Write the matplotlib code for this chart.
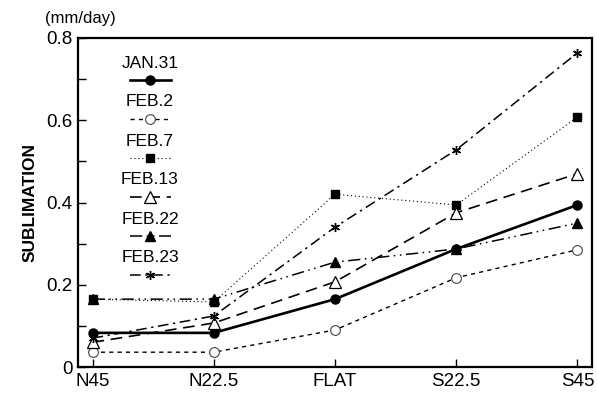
import matplotlib.pyplot as plt
from matplotlib.lines import Line2D

plt.rcParams['font.family'] = ['Liberation Sans', 'DejaVu Sans']

# datos
sitios = ['N45', 'N22.5', 'FLAT', 'S22.5', 'S45']
jan31 = [0.083, 0.083, 0.165, 0.287, 0.394]
feb2 = [0.036, 0.036, 0.090, 0.217, 0.285]
feb7 = [0.165, 0.158, 0.420, 0.394, 0.608]
feb13 = [0.060, 0.107, 0.207, 0.375, 0.470]
feb22 = [0.165, 0.165, 0.255, 0.287, 0.350]
feb23 = [0.070, 0.124, 0.340, 0.528, 0.764]

nombres = ['JAN.31', 'FEB.2', 'FEB.7', 'FEB.13', 'FEB.22', 'FEB.23']
series = [jan31, feb2, feb7, feb13, feb22, feb23]

# estilos de cada serie
estilos = [
    dict(ls='-', lw=1.9, marker='o', ms=6.5, mfc='black', mec='black'),
    dict(ls=(0, (3, 3)), lw=1.0, marker='o', ms=7, mfc='white', mec='#444444', mew=0.8),
    dict(ls=(0, (1, 2.5)), lw=0.8, marker='s', ms=6, mfc='black', mec='black'),
    dict(ls=(0, (7, 4)), lw=1.2, marker='^', ms=8, mfc='white', mec='black', mew=0.9),
    dict(ls=(0, (8, 3, 1, 3, 1, 3)), lw=1.1, marker='^', ms=7, mfc='black', mec='black'),
    dict(ls=(0, (7, 3, 1.5, 3)), lw=1.1, marker=(6, 2, 0), ms=6.5, mfc='black', mec='black', mew=1.0),
]

fig = plt.figure(figsize=(5.97, 3.94), dpi=100)
ax = fig.add_axes([78 / 597, 27 / 394, 514 / 597, 329 / 394])

x = list(range(len(sitios)))
for vals, st in zip(series, estilos):
    ax.plot(x, vals, color='black', **st)

ax.set_xlim(-0.12, 4.12)
ax.set_ylim(0, 0.8)
ax.set_xticks(x)
ax.set_xticklabels(sitios)
ax.set_yticks([0, 0.2, 0.4, 0.6, 0.8])
ax.set_yticklabels(['0', '0.2', '0.4', '0.6', '0.8'])
ax.set_yticks([0.1, 0.3, 0.5, 0.7], minor=True)
ax.tick_params(direction='in', labelsize=13.5, length=6, width=1, pad=4)
ax.tick_params(which='minor', direction='in', length=6, width=1)
for s in ax.spines.values():
    s.set_linewidth(1.6)

ax.set_ylabel('SUBLIMATION', fontsize=12.5, fontweight='bold', labelpad=6)
fig.text(45 / 597, 1 - 18 / 394, '(mm/day)', fontsize=12, va='center', ha='left')

# leyenda: etiqueta arriba y muestra de línea abajo
for i, (nom, st) in enumerate(zip(nombres, estilos)):
    y_txt = 1 - (63 - 38 + i * 39) / 329
    y_lin = 1 - (80 - 38 + i * 39) / 329
    ax.text((150 - 78) / 514, y_txt, nom, transform=ax.transAxes,
            ha='center', va='center', fontsize=12.5)
    ln = Line2D([(130 - 78) / 514, (150 - 78) / 514, (171 - 78) / 514],
                [y_lin, y_lin, y_lin], transform=ax.transAxes, color='black',
                markevery=[1], **st)
    ax.add_line(ln)

fig.savefig('out.png', dpi=100)
